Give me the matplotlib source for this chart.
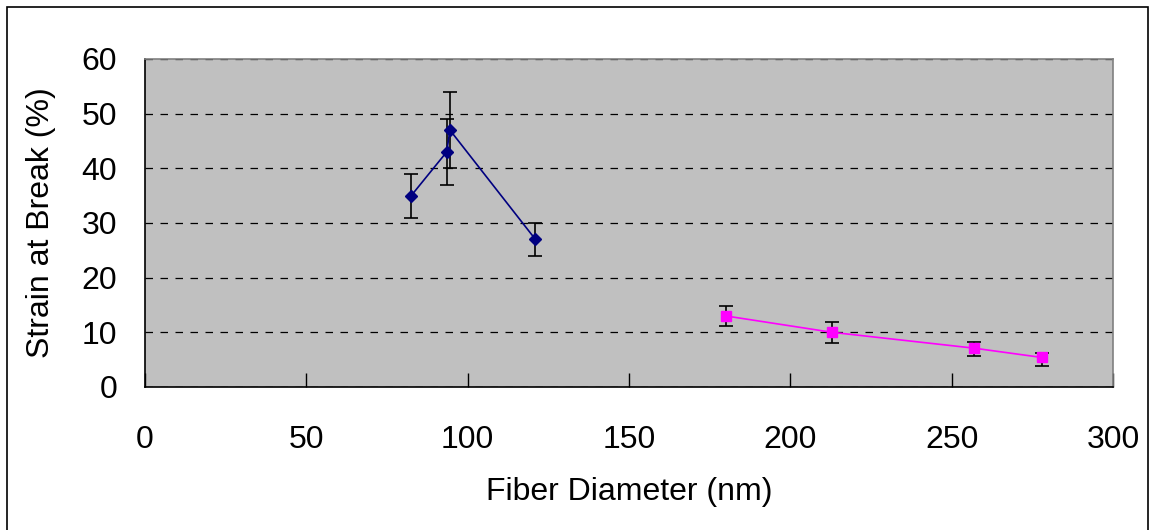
import numpy as np
import matplotlib.pyplot as plt
from matplotlib.patches import Rectangle

plt.rcParams['font.family'] = ['Liberation Sans', 'DejaVu Sans']

# series 1 (small diameter fibers)
d1 = [82.5, 93.5, 94.5, 121]
s1 = [35, 43, 47, 27]
e1_lo = [4, 6, 7, 3]
e1_hi = [4, 6, 7, 3]

# series 2 (large diameter fibers)
d2 = [180, 213, 257, 278]
s2 = [13, 10, 7.1, 5.4]
e2_lo = [1.9, 1.9, 1.4, 1.5]
e2_hi = [1.8, 1.9, 1.2, 0.9]

xticks = [0, 50, 100, 150, 200, 250, 300]
yticks = [0, 10, 20, 30, 40, 50, 60]

fig = plt.figure(figsize=(11.56, 5.30), dpi=100)
ax = fig.add_axes([145/1156, 1-387/530, 968/1156, 328/530])
ax.set_facecolor('#C0C0C0')

# outer chart border
fig.patches.append(Rectangle((7/1156, -0.01), 1141/1156, 1-7/530+0.01,
                             transform=fig.transFigure, fill=False,
                             edgecolor='black', linewidth=1.2))

ax.errorbar(d1, s1, yerr=[e1_lo, e1_hi], fmt='none', ecolor='black',
            elinewidth=1.2, capsize=5, capthick=1.2, zorder=3)
ax.plot(d1, s1, color='#000080', lw=1.2, marker='D', ms=6, zorder=4)

ax.errorbar(d2, s2, yerr=[e2_lo, e2_hi], fmt='none', ecolor='black',
            elinewidth=1.2, capsize=5, capthick=1.2, zorder=3)
ax.plot(d2, s2, color='#FF00FF', lw=1.2, marker='s', ms=7, zorder=4)

ax.set_xlim(0, 300)
ax.set_ylim(0, 60)
ax.set_xticks(xticks)
ax.set_yticks(yticks)
ax.yaxis.grid(True, linestyle=(0, (6, 6)), color='black', lw=0.9)
ax.set_axisbelow(True)

for sp in ['top', 'right']:
    ax.spines[sp].set_color('#808080')
    ax.spines[sp].set_linewidth(1.2)
for sp in ['left', 'bottom']:
    ax.spines[sp].set_color('black')
    ax.spines[sp].set_linewidth(1.2)

ax.tick_params(axis='x', direction='in', length=10, width=1, labelsize=23, pad=27)
ax.tick_params(axis='y', direction='in', length=0, labelsize=23, pad=20)

ax.set_xlabel('Fiber Diameter (nm)', fontsize=23, va='center')
ax.set_ylabel('Strain at Break (%)', fontsize=23, va='center')
ax.xaxis.set_label_coords(0.5, (387-492)/328)
ax.yaxis.set_label_coords((41-145)/968, 0.5)

fig.savefig('out.png', dpi=100)
